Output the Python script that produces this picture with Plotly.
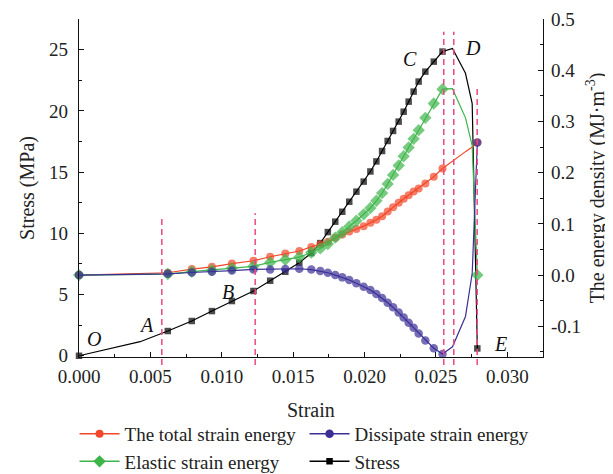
import plotly.graph_objects as go

# ---------------- data ----------------
strain = [0, 0.00428, 0.00622, 0.00790, 0.00931, 0.01071, 0.01222, 0.01339, 0.01445, 0.01543,
          0.01627, 0.01690, 0.01743, 0.01795, 0.01844, 0.01893, 0.01943, 0.01994, 0.02041, 0.02083,
          0.02123, 0.02162, 0.02200, 0.02239, 0.02274, 0.02309, 0.02344, 0.02379, 0.02426, 0.02485,
          0.02546, 0.02616, 0.02707, 0.02754, 0.0279]

stress = [0, 1.15, 2.02, 2.84, 3.65, 4.47, 5.29, 6.13, 6.86, 7.6,
          8.39, 9.2, 10.1, 10.95, 11.76, 12.58, 13.4, 14.22, 15.05, 15.87,
          16.72, 17.54, 18.36, 19.12, 19.93, 20.75, 21.57, 22.39, 23.2, 24.02,
          24.84, 25.1, 23.07, 20.6, 0.6]

total_energy = [0, 0.003, 0.0045, 0.0117, 0.016, 0.0224, 0.028, 0.0357, 0.042, 0.047,
                0.055, 0.060, 0.065, 0.073, 0.079, 0.085, 0.090, 0.0955, 0.102, 0.108,
                0.115, 0.124, 0.1325, 0.141, 0.149, 0.156, 0.163, 0.169, 0.179, 0.192,
                0.208, 0.223, 0.241, 0.25, 0.259]

dissipated_energy = [0, 0.0015, 0.0025, 0.005, 0.0064, 0.0088, 0.011, 0.011, 0.0117, 0.0123,
                     0.0107, 0.0078, 0.0045, 0.0, -0.0045, -0.0097, -0.016, -0.023, -0.029, -0.037,
                     -0.045, -0.054, -0.063, -0.073, -0.083, -0.093, -0.103, -0.114, -0.128, -0.143,
                     -0.154, -0.14, -0.081, 0.003, 0.259]

elastic_energy = [0, 0.0015, 0.002, 0.0067, 0.0096, 0.0136, 0.017, 0.0247, 0.030, 0.035,
                  0.044, 0.052, 0.0605, 0.073, 0.0835, 0.095, 0.106, 0.1185, 0.131, 0.145,
                  0.16, 0.178, 0.1955, 0.214, 0.232, 0.249, 0.266, 0.283, 0.307, 0.335,
                  0.363, 0.364, 0.307, 0.253, 0.0]

# strains of the stage boundaries (dashed lines) and stage labels
stage_strain = [0.0058, 0.01234, 0.02555, 0.02625, 0.02789]
stage_labels = ["O", "A", "B", "C", "D", "E"]
stage_label_strain = [0.00107, 0.00475, 0.01047, 0.02316, 0.02761, 0.02952]
stage_label_stress = [1.39, 2.5, 5.23, 24.2, 25.1, 1.0]

x_ticks = [0.000, 0.005, 0.010, 0.015, 0.020, 0.025, 0.030]
energy_ticks = [-0.1, 0.0, 0.1, 0.2, 0.3, 0.4, 0.5]
energy_tick_text = ["%.1f" % v for v in energy_ticks]

# ---------------- styling ----------------
FONT = "Liberation Serif"
RED, BLUE, GREEN, BLACK = "#F2472A", "#3B2F96", "#3DB54A", "#000000"
DASH = "#EE4780"
unmarked = {1, 31, 32, 33}


def sizes(s):
    return [0 if i in unmarked else s for i in range(len(strain))]


fig = go.Figure()

series = [
    ("Stress", stress, "y", BLACK, "square", 6.5, 4),
    ("The total strain energy", total_energy, "y2", RED, "circle", 8, 1),
    ("Elastic strain energy", elastic_energy, "y2", GREEN, "diamond", 9.5, 3),
    ("Dissipate strain energy", dissipated_energy, "y2", BLUE, "circle", 8.5, 2),
]

for name, vals, yax, col, sym, ms, rank in series:
    fig.add_trace(go.Scatter(
        x=strain, y=vals, yaxis=yax, mode="lines+markers", name=name,
        line=dict(color=col, width=1.2),
        marker=dict(symbol=sym, size=sizes(ms), color=col, line=dict(width=0)),
        showlegend=False, cliponaxis=False, legendgroup=name))
    # legend entry
    fig.add_trace(go.Scatter(
        x=[None], y=[None], yaxis=yax, mode="lines+markers", name=name,
        line=dict(color=col, width=1.5),
        marker=dict(symbol=sym, size=ms, color=col, line=dict(width=0)),
        legendrank=rank, legendgroup=name))

shape_tops = [0.41, 0.425, 0.962, 0.962, 0.795]
for s, top in zip(stage_strain, shape_tops):
    fig.add_shape(type="line", xref="x", yref="paper", x0=s, x1=s, y0=-0.024, y1=top,
                  line=dict(color=DASH, width=1.5, dash="6px,4px"))

for lab, sx, sy in zip(stage_labels, stage_label_strain, stage_label_stress):
    fig.add_annotation(x=sx, y=sy, xref="x", yref="y", text=lab, showarrow=False,
                       font=dict(family=FONT, size=20, color="#111", style="italic"))

# x-axis title as an annotation (placed a little lower than plotly's default)
fig.add_annotation(x=0.5, y=-0.157, xref="paper", yref="paper", text="Strain",
                   showarrow=False, xanchor="center", yanchor="middle",
                   font=dict(family=FONT, size=20, color="#222"))

axis_common = dict(
    showline=True, linecolor="#111", linewidth=1.3, mirror=False,
    ticks="inside", ticklen=5, tickwidth=1.3, tickcolor="#111",
    showgrid=False, zeroline=False, automargin=False,
    tickfont=dict(family=FONT, size=19, color="#222"),
    title_font=dict(family=FONT, size=20, color="#222"),
)

fig.update_layout(
    width=605, height=466,
    margin=dict(l=71, r=70, t=11, b=117),
    paper_bgcolor="white", plot_bgcolor="white",
    font=dict(family=FONT, size=18, color="#222"),
    xaxis=dict(range=[0, 0.0325], tickvals=x_ticks, tickformat=".3f", ticklabelstandoff=2,
               minor=dict(ticks="inside", ticklen=3, dtick=0.0025, tick0=0, tickcolor="#111"),
               **axis_common),
    yaxis=dict(range=[-0.1, 27.5], dtick=5, tick0=0, ticklabelstandoff=6,
               minor=dict(ticks="inside", ticklen=3, dtick=2.5, tick0=0, tickcolor="#111"),
               title=dict(text="Stress (MPa)", standoff=9), **axis_common),
    yaxis2=dict(range=[-0.16, 0.5], tickvals=energy_ticks, ticktext=energy_tick_text,
                ticklabelstandoff=3, overlaying="y", side="right",
                minor=dict(ticks="inside", ticklen=3, dtick=0.05, tick0=0, tickcolor="#111"),
                title=dict(text="The energy density (MJ·m<sup>-3</sup>)", standoff=9),
                **axis_common),
    legend=dict(orientation="h", xref="container", yref="container",
                x=0.11, xanchor="left", y=0.127, yanchor="top",
                entrywidth=175, font=dict(family=FONT, size=19, color="#222"),
                bgcolor="rgba(0,0,0,0)", tracegroupgap=0, itemwidth=40),
)

fig.write_html("out.html")
